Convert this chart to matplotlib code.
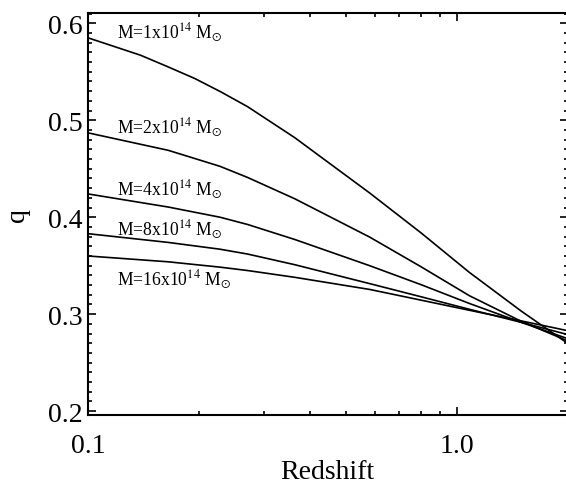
import numpy as np
import matplotlib
matplotlib.use("Agg")
import matplotlib.pyplot as plt
from matplotlib.ticker import MultipleLocator, FixedLocator, NullFormatter, FuncFormatter

plt.rcParams['font.family'] = ['Liberation Serif', 'DejaVu Serif']
plt.rcParams['mathtext.fontset'] = 'stix'

# Data
z_m1 = [0.10, 0.139, 0.165, 0.195, 0.23, 0.271, 0.364, 0.581, 0.80, 1.084, 1.5, 2.0]
q_m1 = [0.585, 0.567, 0.555, 0.543, 0.529, 0.514, 0.482, 0.425, 0.384, 0.343, 0.303, 0.270]
z_all = [0.10, 0.165, 0.228, 0.271, 0.364, 0.581, 0.80, 1.084, 1.5, 2.0]
q_m2 = [0.487, 0.469, 0.4525, 0.441, 0.419, 0.3795, 0.349, 0.319, 0.2925, 0.2725]
q_m4 = [0.424, 0.4105, 0.400, 0.3925, 0.377, 0.350, 0.3305, 0.311, 0.2915, 0.2748]
q_m8 = [0.383, 0.374, 0.367, 0.362, 0.351, 0.3315, 0.318, 0.305, 0.2915, 0.2790]
q_m16 = [0.360, 0.354, 0.3485, 0.345, 0.338, 0.3255, 0.3145, 0.304, 0.293, 0.283]
series = [(z_m1, q_m1), (z_all, q_m2), (z_all, q_m4), (z_all, q_m8), (z_all, q_m16)]
mass_labels = [r'M=1x10$^{14}$ M$_{\odot}$', r'M=2x10$^{14}$ M$_{\odot}$',
               r'M=4x10$^{14}$ M$_{\odot}$', r'M=8x10$^{14}$ M$_{\odot}$',
               r'M=16x10$^{14}$ M$_{\odot}$']
label_y = [0.5856, 0.4875, 0.4238, 0.3827, 0.3311]
label_x = 0.1195

fig = plt.figure(figsize=(5.66, 4.89), dpi=100)
ax = fig.add_axes([88/566, (489-416)/489, (567.5-88)/566, (416-14)/489])

for zz, s in series:
    ax.plot(zz, s, color='black', lw=1.2)

for lab, y in zip(mass_labels, label_y):
    ax.text(label_x, y, lab, fontsize=12.7, va='baseline', ha='left')

ax.set_xscale('log')
ax.set_xlim(0.1, 2.0)
ax.set_ylim(0.196, 0.6106)

ax.xaxis.set_major_locator(FixedLocator([0.1, 1.0]))
ax.xaxis.set_minor_locator(FixedLocator([0.2, 0.3, 0.4, 0.5, 0.6, 0.7, 0.8, 0.9, 2.0]))
ax.xaxis.set_major_formatter(FuncFormatter(lambda v, p: f"{v:.1f}"))
ax.xaxis.set_minor_formatter(NullFormatter())
ax.yaxis.set_major_locator(MultipleLocator(0.1))
ax.yaxis.set_minor_locator(MultipleLocator(0.01))
ax.yaxis.set_major_formatter(FuncFormatter(lambda v, p: f"{v:.1f}"))

ax.tick_params(which='both', direction='in', top=True, right=True, width=1.2)
ax.tick_params(which='major', length=6, labelsize=20)
ax.tick_params(axis='x', which='major', pad=13)
ax.tick_params(axis='y', which='major', pad=4)
ax.tick_params(which='minor', length=3)
for sp in ax.spines.values():
    sp.set_linewidth(1.5)

ax.set_xlabel('Redshift', fontsize=20, labelpad=1)
ax.set_ylabel('q', fontsize=20)
ax.yaxis.set_label_coords(-0.122, 0.5)

fig.savefig('out.png', dpi=100)
